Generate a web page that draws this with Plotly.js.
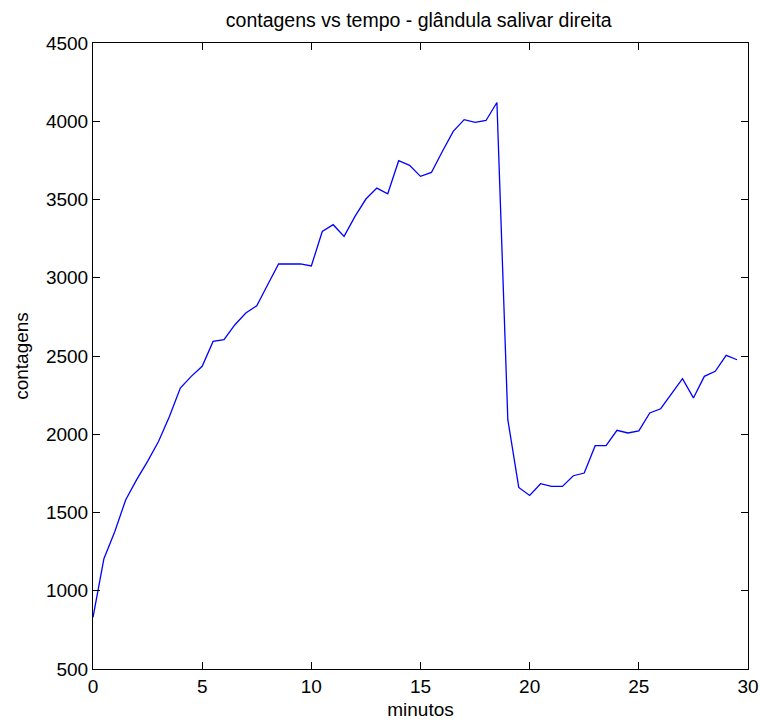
<!DOCTYPE html>
<html>
<head>
<meta charset="utf-8">
<script src="https://cdn.plot.ly/plotly-3.0.1.min.js"></script>
<style>html,body{margin:0;padding:0;background:#fff;}#chart{width:760px;height:722px;}</style>
</head>
<body>
<div id="chart"></div>
<script>
const minutos = [0,0.5,1,1.5,2,2.5,3,3.5,4,4.5,5,5.5,6,6.5,7,7.5,8,8.5,9,9.5,10,10.5,11,11.5,12,12.5,13,13.5,14,14.5,15,15.5,16,16.5,17,17.5,18,18.5,19,19.5,20,20.5,21,21.5,22,22.5,23,23.5,24,24.5,25,25.5,26,26.5,27,27.5,28,28.5,29,29.5];
const contagens = [830,1205,1379,1582,1710,1827,1954,2114,2295,2370,2434,2593,2604,2700,2775,2821,2955,3088,3088,3088,3075,3296,3339,3264,3392,3503,3573,3537,3748,3718,3648,3673,3807,3935,4010,3993,4005,4120,2093,1660,1609,1684,1667,1667,1735,1752,1927,1927,2025,2008,2022,2136,2163,2263,2355,2232,2370,2402,2504,2476];
const xTicks = [0,5,10,15,20,25,30];
const yTicks = [500,1000,1500,2000,2500,3000,3500,4000,4500];

const font = {family: 'Liberation Sans, Arial, sans-serif', size: 19, color: '#000'};
const titleFont = {family: 'Liberation Sans, Arial, sans-serif', size: 19.5, color: '#000'};
Plotly.newPlot('chart', [{
  x: minutos, y: contagens, type: 'scatter', mode: 'lines',
  line: {color: 'rgb(0,0,255)', width: 1.3}
}], {
  width: 760, height: 722,
  margin: {l: 93, r: 12, t: 43, b: 53},
  paper_bgcolor: '#fff', plot_bgcolor: '#fff',
  showlegend: false,
  font: font,
  title: {text: 'contagens vs tempo - glândula salivar direita', font: titleFont, x: 0.551, xanchor: 'center', y: 0.972, yanchor: 'middle'},
  xaxis: {
    range: [0, 30], tickvals: xTicks, ticktext: xTicks.map(String),
    ticks: 'inside', ticklen: 7, tickcolor: '#000', tickwidth: 1,
    showline: true, linecolor: '#000', linewidth: 1, mirror: 'ticks',
    showgrid: false, zeroline: false, tickfont: font,
    title: {text: 'minutos', font: font, standoff: 6}
  },
  yaxis: {
    range: [500, 4500], tickvals: yTicks, ticktext: yTicks.map(String),
    ticks: 'inside', ticklen: 7, tickcolor: '#000', tickwidth: 1,
    showline: true, linecolor: '#000', linewidth: 1, mirror: 'ticks',
    showgrid: false, zeroline: false, tickfont: font,
    title: {text: 'contagens', font: font, standoff: 12}
  }
}, {displayModeBar: false, staticPlot: true});
</script>
</body>
</html>
